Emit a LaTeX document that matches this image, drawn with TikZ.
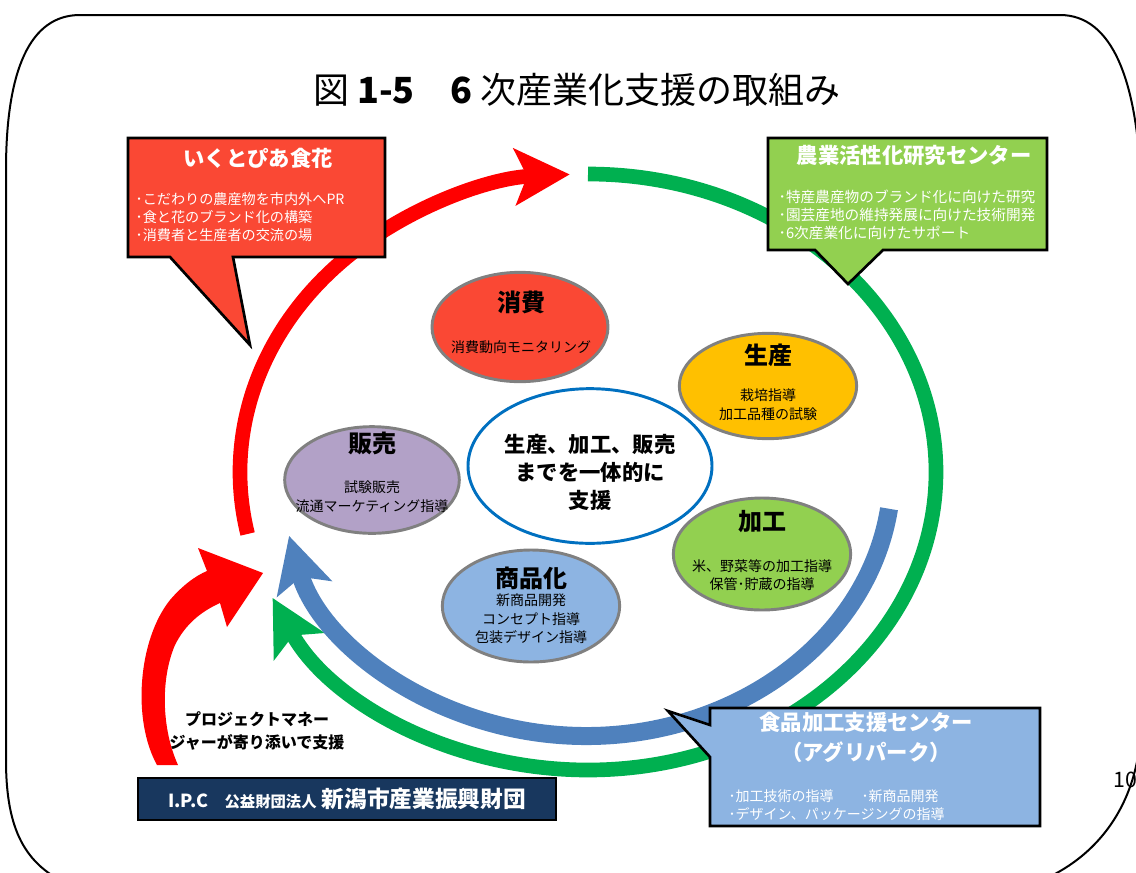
\documentclass[tikz,border=0pt]{standalone}
\usepackage{fontspec}
\setmainfont{Noto Sans CJK JP}
\usetikzlibrary{arrows.meta,shapes.geometric}

\definecolor{ringred}{RGB}{255,0,0}
\definecolor{ringgreen}{RGB}{0,176,80}
\definecolor{ringblue}{RGB}{79,129,189}
\definecolor{shohired}{RGB}{250,72,52}
\definecolor{seisanyellow}{RGB}{255,192,0}
\definecolor{kakougreen}{RGB}{146,208,80}
\definecolor{shohinblue}{RGB}{141,180,226}
\definecolor{hanbaipurple}{RGB}{178,161,199}
\definecolor{centerblue}{RGB}{0,112,192}
\definecolor{ipcnavy}{RGB}{24,55,94}
\definecolor{rimgray}{RGB}{128,128,128}

\begin{document}
\begin{tikzpicture}
  [
    x = 0.75pt, y = -0.75pt,
    ring/.style = {line width=11pt},
    ring tip/.style = {-{Stealth[length=41pt,width=42pt,inset=9pt]}},
    theme/.style = {ellipse,draw=rimgray,line width=2.2pt,inner sep=0pt},
    theme title/.style = {font=\fontsize{18}{20}\selectfont\bfseries},
    theme text/.style = {font=\fontsize{10.5}{14}\selectfont,align=center},
    bubble/.style = {draw=black,line width=2pt,line join=miter},
    bubble title/.style = {text=white,font=\fontsize{16}{22.5}\selectfont\bfseries,align=center},
    bubble text/.style = {text=white,font=\fontsize{10.6}{13.5}\selectfont,align=left,anchor=west},
  ]

  \useasboundingbox (0,0) rectangle (1136,872);

  % frame
  \draw [line width=1.5pt] (6,760) -- (6,170) .. controls (6,70) and (30,15) .. (80,15)
    -- (1060,15) .. controls (1112,15) and (1138,80) .. (1141,190) -- (1141,720)
    .. controls (1141,800) and (1100,860) .. (1030,885);
  \draw [line width=1.5pt] (6,760) .. controls (6,830) and (25,865) .. (70,885);
  \node [anchor=west,inner sep=0pt,font=\fontsize{16}{18}\selectfont] (pageno) at (1113,780) {10};

  \node [font=\fontsize{27}{30}\selectfont] (title) at (577,90)
    {図 {\bfseries 1-5}　{\bfseries 6} 次産業化支援の取組み};

  % rings
  \draw [ring,ringgreen,ring tip] (588,472) ++(270:348 and 298)
    arc [start angle=270,end angle=515,x radius=348,y radius=298];
  \draw [ring,ringred,ring tip] (588,472) ++(168:348 and 298)
    arc [start angle=168,end angle=267,x radius=348,y radius=298];
  \draw [line width=13.5pt,ringblue,ring tip] (586,472) ++(8:306 and 264)
    arc [start angle=8,end angle=166,x radius=306,y radius=264];

  % project manager arrow
  \fill [ringred] (157,765) .. controls (132,720) and (138,640) .. (170,600)
    .. controls (182,586) and (195,576) .. (207,571) -- (198,548) -- (263,573) -- (227,627)
    -- (220,603) .. controls (200,612) and (185,625) .. (175,645)
    .. controls (160,680) and (162,730) .. (178,765) -- cycle;
  \node [font=\fontsize{12}{17}\selectfont\bfseries,align=center] (pm) at (257,731)
    {プロジェクトマネー\\ジャーが寄り添いで支援};

  % themes
  \node [theme,fill=shohired,minimum width=132pt,minimum height=82pt] (shohi) at (520,327) {};
  \node [theme title] (shohi-t) at (521,302) {消費};
  \node [theme text] (shohi-s) at (521,347) {消費動向モニタリング};

  \node [theme,fill=seisanyellow,minimum width=133pt,minimum height=79pt] (seisan) at (768,386) {};
  \node [theme title] (seisan-t) at (768,355) {生産};
  \node [theme text] (seisan-s) at (768,405) {栽培指導\\加工品種の試験};

  \node [theme,fill=kakougreen,minimum width=133pt,minimum height=84pt] (kakou) at (762,554) {};
  \node [theme title] (kakou-t) at (762,522) {加工};
  \node [theme text] (kakou-s) at (762,575) {米、野菜等の加工指導\\保管･貯蔵の指導};

  \node [theme,fill=shohinblue,minimum width=133pt,minimum height=84pt] (shohin) at (531,606) {};
  \node [theme title] (shohin-t) at (531,578) {商品化};
  \node [theme text] (shohin-s) at (531,619) {新商品開発\\コンセプト指導\\包装デザイン指導};

  \node [theme,fill=hanbaipurple,minimum width=131pt,minimum height=80pt] (hanbai) at (372,480) {};
  \node [theme title] (hanbai-t) at (372,443) {販売};
  \node [theme text] (hanbai-s) at (372,497) {試験販売\\流通マーケティング指導};

  \node [theme,draw=centerblue,fill=white,minimum width=183pt,minimum height=116pt] (core) at (590,466) {};
  \node [font=\fontsize{16}{21}\selectfont\bfseries,align=center] (core-t) at (590,472)
    {生産、加工、販売\\までを一体的に\\支援};

  % callouts
  \filldraw [bubble,fill=shohired] (128,138) -- (385,138) -- (385,257) -- (233,257)
    -- (250,345) -- (170,257) -- (128,257) -- cycle;
  \node [bubble title] (ikuto-t) at (258,158) {いくとぴあ食花};
  \node [bubble text] (ikuto-s) at (131,217)
    {･こだわりの農産物を市内外へPR\\･食と花のブランド化の構築\\･消費者と生産者の交流の場};

  \filldraw [bubble,fill=kakougreen] (768,138) -- (1047,138) -- (1047,250) -- (883,250)
    -- (848,284) -- (815,250) -- (768,250) -- cycle;
  \node [bubble title] (nogyo-t) at (914,155) {農業活性化研究センター};
  \node [bubble text,font=\fontsize{11}{13.5}\selectfont] (nogyo-s) at (774,215)
    {･特産農産物のブランド化に向けた研究\\･園芸産地の維持発展に向けた技術開発\\･6次産業化に向けたサポート};

  \filldraw [bubble,fill=shohinblue] (710,708) -- (1040,708) -- (1040,826) -- (710,826)
    -- (710,757) -- (668,711) -- (710,725) -- cycle;
  \node [bubble title] (agri-t) at (866,737) {食品加工支援センター\\（アグリパーク）};
  \node [bubble text,font=\fontsize{10.5}{14}\selectfont] (agri-s) at (724,805)
    {･加工技術の指導　　･新商品開発\\･デザイン、パッケージングの指導};

  % foundation
  \node [draw=black,line width=1.5pt,fill=ipcnavy,text=white,minimum width=314pt,minimum height=31pt] (ipc) at (347,799)
    {{\fontsize{13.5}{16}\selectfont\bfseries I.P.C}\hspace{12pt}{\fontsize{11.5}{16}\selectfont\bfseries 公益財団法人}\hspace{4pt}{\fontsize{17}{20}\selectfont\bfseries 新潟市産業振興財団}};

\end{tikzpicture}
\end{document}
